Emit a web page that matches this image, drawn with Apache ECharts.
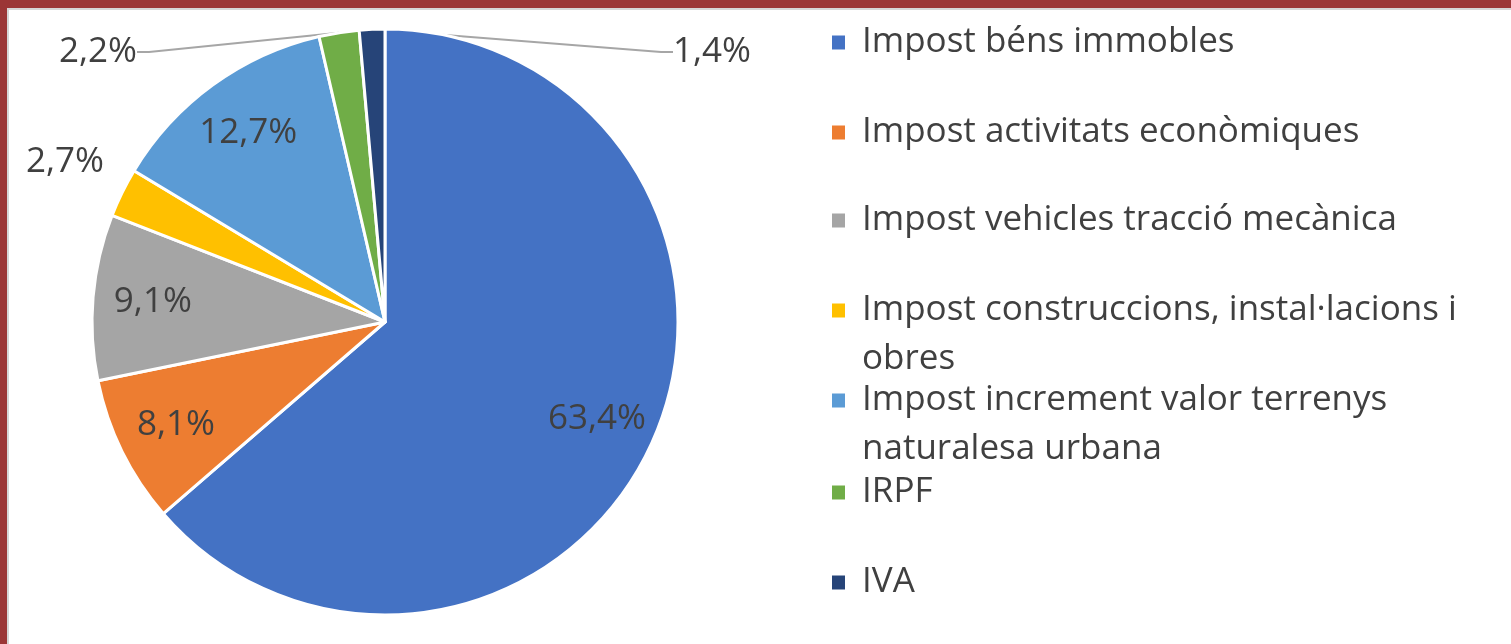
<!DOCTYPE html>
<html>
<head>
<meta charset="utf-8">
<script src="https://cdn.jsdelivr.net/npm/echarts@6/dist/echarts.min.js"></script>
<style>
  html, body { margin: 0; padding: 0; background: #9b3636; }
  #frame {
    position: absolute; left: 7px; top: 8px; right: 0; bottom: 0;
    background: #fff;
    border-left: 2px solid #d6d6d6;
    border-top: 2px solid #d6d6d6;
  }
  #chart { width: 100%; height: 100%; }
</style>
</head>
<body>
<div id="frame"><div id="chart"></div></div>
<script>
// tax categories and their share (%)
const categories = [
  'Impost béns immobles',
  'Impost activitats econòmiques',
  'Impost vehicles tracció mecànica',
  'Impost construccions, instal·lacions i obres',
  'Impost increment valor terrenys naturalesa urbana',
  'IRPF',
  'IVA'
];
const shares = [63.4, 8.1, 9.1, 2.7, 12.7, 2.2, 1.4];
const colors = ['#4472C4', '#ED7D31', '#A5A5A5', '#FFC000', '#5B9BD5', '#70AD47', '#264478'];
// labels drawn outside the pie (small slices)
const outsideIdx = [3, 5, 6];
// legend text lines as wrapped in the original
const legendLines = [
  ['Impost béns immobles'],
  ['Impost activitats econòmiques'],
  ['Impost vehicles tracció mecànica'],
  ['Impost construccions, instal·lacions i', 'obres'],
  ['Impost increment valor terrenys', 'naturalesa urbana'],
  ['IRPF'],
  ['IVA']
];

const FONT = 'Open Sans';
const FS = 35;
const TXT = '#404040';
const LH = 49;
const labelPos = { 3: [56, 152], 5: [89, 42], 6: [703, 42] };
const legendRowY = [42, 132, 220, 310, 400, 492, 582];

function fmt(v) { return v.toFixed(1).replace('.', ',') + '%'; }

const chart = echarts.init(document.getElementById('chart'));

let mainData = categories.map((c, i) => ({
  name: c,
  value: shares[i],
  itemStyle: { color: colors[i] },
  label: { show: outsideIdx.indexOf(i) >= 0 },
  labelLine: { show: outsideIdx.indexOf(i) >= 0 && i !== 3 }
}));
let innerData = categories.map((c, i) => ({
  name: c,
  value: shares[i],
  label: { show: outsideIdx.indexOf(i) < 0 }
}));

let legends = categories.map((c, i) => {
  let lines = legendLines[i];
  let wrapped = lines.length > 1;
  return {
    data: [c],
    left: 816,
    top: legendRowY[i] - 39 - (wrapped ? LH : 0),
    padding: 5,
    icon: 'rect',
    itemWidth: 15,
    itemHeight: 16,
    selectedMode: false,
    formatter: () => (wrapped ? '{s| }\n' : '') + lines.map(l => '{t|' + l + '}').join('\n'),
    textStyle: {
      fontFamily: FONT, fontSize: FS, color: TXT, lineHeight: LH,
      rich: {
        s: { fontFamily: FONT, fontSize: FS, lineHeight: LH },
        t: { fontFamily: FONT, fontSize: FS, color: TXT, lineHeight: LH, padding: [0, 0, 0, 11] }
      }
    }
  };
});

let option = {
  animation: false,
  legend: legends,
  series: [
    {
      type: 'pie',
      center: [376, 312],
      radius: [0, 293],
      startAngle: 90,
      clockwise: true,
      avoidLabelOverlap: false,
      itemStyle: { borderColor: '#fff', borderWidth: 3 },
      emphasis: { disabled: true },
      label: {
        position: 'outside',
        formatter: p => fmt(p.value),
        fontFamily: FONT, fontSize: FS, color: TXT
      },
      labelLine: { length: 10, length2: 12, lineStyle: { color: '#a6a6a6', width: 2 } },
      labelLayout: function (params) {
        let p = labelPos[params.dataIndex];
        if (!p) return {};
        return { x: p[0], y: p[1], align: 'center', verticalAlign: 'middle' };
      },
      data: mainData
    },
    {
      type: 'pie',
      center: [376, 312],
      radius: [167, 293],
      startAngle: 90,
      clockwise: true,
      silent: true,
      avoidLabelOverlap: false,
      itemStyle: { color: 'rgba(0,0,0,0)', borderWidth: 0 },
      label: {
        position: 'inside',
        formatter: p => fmt(p.value),
        fontFamily: FONT, fontSize: FS, color: TXT
      },
      labelLine: { show: false },
      data: innerData
    }
  ]
};
chart.setOption(option);
window.addEventListener('resize', () => chart.resize());
</script>
</body>
</html>
